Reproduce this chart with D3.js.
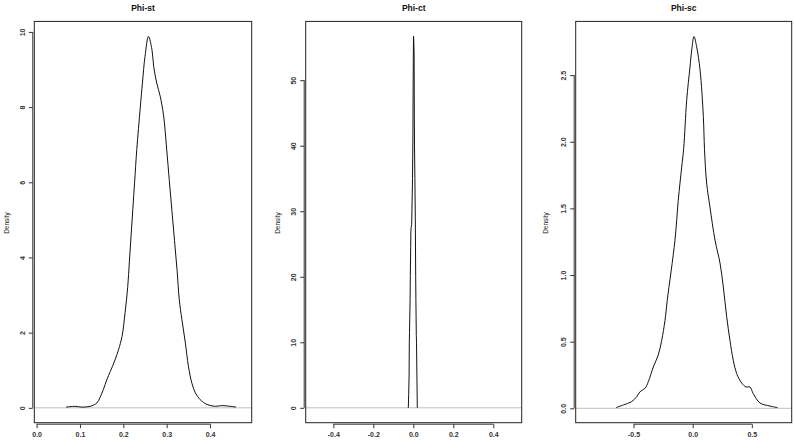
<!DOCTYPE html>
<html>
<head>
<meta charset="utf-8">
<script src="https://cdn.jsdelivr.net/npm/d3@7"></script>
<style>
  body { margin: 0; background: #fff; }
  text { font-family: "Liberation Sans", Arial, sans-serif; }
</style>
</head>
<body>
<svg width="794" height="441"></svg>
<script>
// density estimates
var titles = ["Phi-st", "Phi-ct", "Phi-sc"];

var stX = [0.068, 0.089, 0.104, 0.123, 0.139, 0.146, 0.154, 0.162, 0.170, 0.181, 0.189, 0.197, 0.204, 0.210, 0.214, 0.218, 0.222, 0.226, 0.231, 0.239, 0.244, 0.250, 0.258, 0.266, 0.270, 0.277, 0.285, 0.293, 0.300, 0.306, 0.312, 0.318, 0.324, 0.329, 0.335, 0.343, 0.350, 0.358, 0.366, 0.377, 0.393, 0.412, 0.427, 0.447, 0.460];
var stY = [0.02, 0.04, 0.02, 0.04, 0.13, 0.27, 0.49, 0.75, 0.97, 1.28, 1.55, 1.90, 2.53, 3.20, 3.90, 4.60, 5.30, 6.00, 6.87, 7.98, 8.64, 9.35, 9.88, 9.53, 9.08, 8.64, 8.29, 7.76, 6.87, 6.05, 5.25, 4.45, 3.65, 2.88, 2.35, 1.73, 1.11, 0.66, 0.40, 0.22, 0.09, 0.04, 0.06, 0.04, 0.02];

var ctX = [-0.025, -0.023, -0.021, -0.020, -0.019, -0.016, -0.015, -0.013, -0.012, -0.011, -0.008, -0.004, -0.002, -0.001, 0.000, 0.001, 0.002, 0.004, 0.005, 0.006, 0.008, 0.010, 0.012, 0.013, 0.015, 0.016, 0.018, 0.020];
var ctY = [0, 2, 5, 10, 11.5, 16.5, 20, 24.5, 27, 27.5, 28, 35, 41, 48, 53, 56.7, 56.4, 54, 45, 40, 35, 29, 20, 16.5, 11, 10, 5, 0];

var scX = [-0.648, -0.587, -0.516, -0.473, -0.445, -0.403, -0.375, -0.333, -0.291, -0.262, -0.234, -0.215, -0.150, -0.122, -0.093, -0.076, -0.051, -0.023, -0.008, 0.011, 0.034, 0.062, 0.090, 0.100, 0.118, 0.146, 0.189, 0.231, 0.259, 0.287, 0.315, 0.343, 0.372, 0.414, 0.451, 0.484, 0.512, 0.569, 0.653, 0.718];
var scY = [0.005, 0.025, 0.05, 0.087, 0.125, 0.15, 0.20, 0.31, 0.40, 0.51, 0.66, 0.81, 1.26, 1.56, 1.81, 1.95, 2.31, 2.56, 2.69, 2.79, 2.71, 2.54, 2.19, 1.94, 1.69, 1.51, 1.26, 1.09, 0.91, 0.69, 0.51, 0.36, 0.26, 0.19, 0.16, 0.16, 0.11, 0.04, 0.017, 0.005];

var xTicks = [[0, 0.1, 0.2, 0.3, 0.4], [-0.4, -0.2, 0, 0.2, 0.4], [-0.5, 0, 0.5]];
var yTicks = [[0, 2, 4, 6, 8, 10], [0, 10, 20, 30, 40, 50], [0, 0.5, 1, 1.5, 2, 2.5]];
var xFmt = [".1f", ".1f", ".1f"];
var yFmt = ["d", "d", ".1f"];

var series = [
  stX.map((x, i) => [x, stY[i]]),
  ctX.map((x, i) => [x, ctY[i]]),
  scX.map((x, i) => [x, scY[i]])
];

// panel layout (plot box in px, axis limits)
var panels = [
  {left: 34.3, right: 251.7, xdom: [-0.0053, 0.496], ydom: [-0.395, 10.28], labX: 6},
  {left: 305.7, right: 521.7, xdom: [-0.538, 0.542], ydom: [-2.27, 58.97], labX: 277},
  {left: 575.7, right: 791.7, xdom: [-0.989, 0.837], ydom: [-0.108, 2.903], labX: 545}
];
var boxTop = 21.4, boxBottom = 422.7;

var svg = d3.select("svg");

panels.forEach(function(p, i) {
  var x = d3.scaleLinear().domain(p.xdom).range([p.left, p.right]);
  var y = d3.scaleLinear().domain(p.ydom).range([boxBottom, boxTop]);
  var g = svg.append("g");

  // zero line
  g.append("line")
    .attr("x1", p.left).attr("x2", p.right)
    .attr("y1", y(0)).attr("y2", y(0))
    .attr("stroke", "#bebebe").attr("stroke-width", 1);

  g.append("path")
    .datum(series[i])
    .attr("fill", "none")
    .attr("stroke", "#111")
    .attr("stroke-width", 1)
    .attr("d", d3.line()
      .x(d => x(d[0]))
      .y(d => y(d[1]))
      .curve(i == 1 ? d3.curveLinear : d3.curveCatmullRom.alpha(0.5)));

  g.append("rect")
    .attr("x", p.left).attr("y", boxTop)
    .attr("width", p.right - p.left).attr("height", boxBottom - boxTop)
    .attr("fill", "none").attr("stroke", "#222").attr("stroke-width", 1);

  // x axis
  var xa = g.append("g")
    .attr("transform", "translate(0," + (boxBottom + 1.5) + ")")
    .call(d3.axisBottom(x).tickValues(xTicks[i]).tickFormat(d3.format(xFmt[i])).tickSize(4).tickPadding(4));
  xa.select(".domain").remove();
  xa.append("line")
    .attr("x1", x(xTicks[i][0])).attr("x2", x(xTicks[i][xTicks[i].length - 1]))
    .attr("stroke", "#333");
  xa.selectAll(".tick line").attr("stroke", "#333");
  xa.selectAll("text")
    .attr("fill", "#333").style("font-size", "7px").style("font-weight", "bold")
    .text(d => d3.format(xFmt[i])(d).replace("−", "-"));

  // y axis
  var ya = g.append("g")
    .attr("transform", "translate(" + (p.left - 1.5) + ",0)")
    .call(d3.axisLeft(y).tickValues(yTicks[i]).tickFormat(d3.format(yFmt[i])).tickSize(4));
  ya.select(".domain").remove();
  ya.append("line")
    .attr("y1", y(yTicks[i][0])).attr("y2", y(yTicks[i][yTicks[i].length - 1]))
    .attr("stroke", "#333");
  ya.selectAll(".tick line").attr("stroke", "#333");
  ya.selectAll("text")
    .attr("x", 0).attr("y", -8).attr("dy", 0)
    .attr("transform", "rotate(-90)")
    .attr("text-anchor", "middle")
    .attr("fill", "#333").style("font-size", "7px").style("font-weight", "bold");

  g.append("text")
    .attr("transform", "translate(" + (p.labX + 2.5) + ",223) rotate(-90)")
    .attr("text-anchor", "middle")
    .style("font-size", "6.5px").attr("fill", "#222")
    .text("Density");

  g.append("text")
    .attr("x", (p.left + p.right) / 2).attr("y", 10.5)
    .attr("text-anchor", "middle")
    .style("font-size", "8.5px").style("font-weight", "bold").attr("fill", "#111")
    .text(titles[i]);
});
</script>
</body>
</html>
